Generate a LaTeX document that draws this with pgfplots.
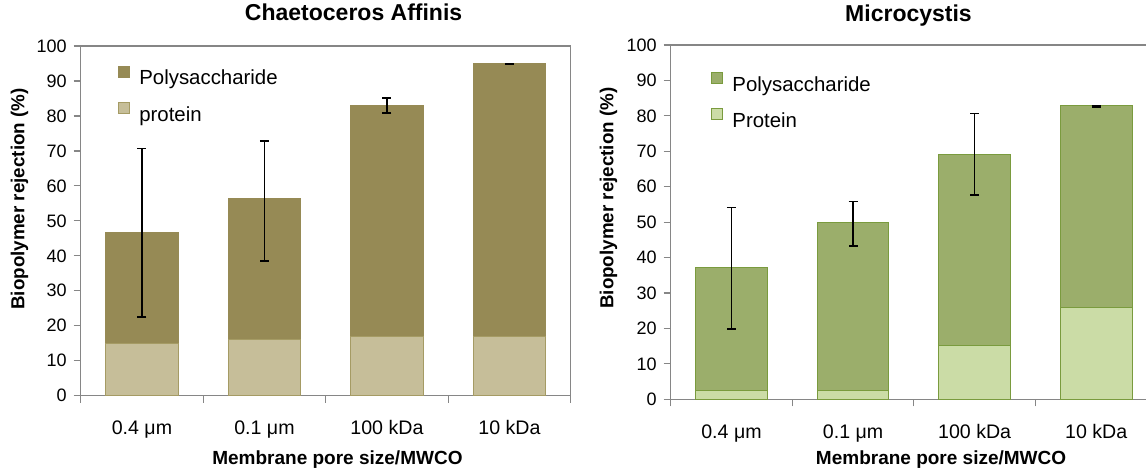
\documentclass[border=0pt]{standalone}
\usepackage{pgfplots}
\usepackage{pgfplotstable}
\pgfplotsset{compat=1.18}
\usepackage{fontspec}
\setmainfont{Liberation Sans}

\definecolor{olivedark}{RGB}{150,138,85}
\definecolor{olivelight}{RGB}{198,190,153}
\definecolor{oliveedge}{RGB}{165,155,100}
\definecolor{greendark}{RGB}{155,174,107}
\definecolor{greenlight}{RGB}{203,220,166}
\definecolor{greenedge}{RGB}{122,155,62}
\definecolor{axisgray}{RGB}{134,134,134}

% x: category index; prot, poly stacked; ec: error centre; err: half range
\pgfplotstableread{
x prot poly ec err
0 15.0 31.7 46.6 24.1
1 16.0 40.3 55.65 17.15
2 16.8 66.3 83.0 2.1
3 16.8 78.1 94.9 0.1
}\chaet
\pgfplotstableread{
x prot poly ec err
0 2.5 34.6 36.95 17.15
1 2.5 47.3 49.5 6.3
2 15.1 54.1 69.2 11.5
3 25.9 57.0 82.6 0.2
}\micro

\pgfplotsset{
  base/.style={
    scale only axis, anchor=south west,
    xmin=-0.5, xmax=3.5, ymin=0, ymax=100,
  },
  panel/.style={
    base, ybar stacked, bar width=0.59,
    ytick={0,10,...,100},
    xtick={0,1,2,3},
    xticklabels={0.4 μm, 0.1 μm, 100 kDa, 10 kDa},
    minor xtick={-0.5,0.5,1.5,2.5,3.5},
    xtick pos=left, ytick pos=left,
    tick align=outside,
    major x tick style={draw=none},
    major tick length=3.5pt, minor tick length=3.5pt,
    every tick/.style={axisgray, line width=0.6pt},
    axis line style={axisgray, line width=0.6pt},
    /pgf/number format/assume math mode=true,
    xticklabel style={font=\fontsize{9.8}{11}\selectfont, anchor=base, yshift=-16pt},
    yticklabel style={font=\fontsize{9}{10}\selectfont, anchor=east, xshift=0pt},
    title style={font=\bfseries\fontsize{11.5}{13}\selectfont, anchor=base},
    xlabel style={font=\bfseries\fontsize{9.5}{11}\selectfont, anchor=base},
    ylabel style={font=\bfseries\fontsize{9.4}{11}\selectfont, anchor=center},
    legend cell align=left,
    reverse legend,
    legend style={draw=none, fill=none, anchor=north west, inner sep=0pt,
      font=\fontsize{10.2}{12}\selectfont,
      nodes={inner sep=0pt, text height=8pt, text depth=2pt},
      row sep=6.7pt},
    legend image code/.code={
      \path[draw=none, fill=none] (0pt,0pt) (10.5pt,0pt);
      \draw[##1, line width=0.5pt] (0.25pt,0.85pt) rectangle (5.75pt,6.35pt);
    },
  },
  errs/.style={
    base, hide axis,
  },
  errplot/.style={
    draw=none, mark=none, forget plot,
    error bars/.cd, y dir=both, y explicit,
    error bar style={black, line width=0.75pt},
    error mark options={rotate=90, mark size=2.25pt, black, line width=0.75pt},
  },
}

\begin{document}
\begin{tikzpicture}
% ---------------- Left panel ----------------
\begin{axis}[panel,
  at={(40.35pt,36.15pt)}, width=245pt, height=174.85pt,
  title={Chaetoceros Affinis},
  title style={at={(axis description cs:0.557,1.039)}},
  xlabel={Membrane pore size/MWCO},
  xlabel style={at={(axis description cs:0.524,-0.196)}},
  ylabel={Biopolymer rejection (\%)},
  ylabel style={at={(axis description cs:-0.125,0.5625)}},
  legend style={at={(axis description cs:0.076,0.945)}},
]
\addplot[fill=olivelight, draw=oliveedge, line width=0.5pt] table[x=x, y=prot] {\chaet};
\addlegendentry{protein}
\addplot[fill=olivedark, draw=olivedark, line width=0.5pt] table[x=x, y=poly] {\chaet};
\addlegendentry{Polysaccharide}
\end{axis}
\begin{axis}[errs, at={(40.35pt,36.15pt)}, width=245pt, height=174.85pt]
\addplot[errplot] table[x=x, y=ec, y error=err] {\chaet};
\end{axis}

% ---------------- Right panel ----------------
\begin{axis}[panel,
  at={(335.35pt,34.35pt)}, width=243.15pt, height=177.15pt,
  title={Microcystis},
  title style={at={(axis description cs:0.489,1.033)}},
  xlabel={Membrane pore size/MWCO},
  xlabel style={at={(axis description cs:0.556,-0.183)}},
  ylabel={Biopolymer rejection (\%)},
  ylabel style={at={(axis description cs:-0.128,0.568)}},
  legend style={at={(axis description cs:0.083,0.925)}, row sep=6.35pt},
]
\addplot[fill=greenlight, draw=greenedge, line width=0.5pt] table[x=x, y=prot] {\micro};
\addlegendentry{Protein}
\addplot[fill=greendark, draw=greenedge, line width=0.5pt] table[x=x, y=poly] {\micro};
\addlegendentry{Polysaccharide}
\end{axis}
\begin{axis}[errs, at={(335.35pt,34.35pt)}, width=243.15pt, height=177.15pt]
\addplot[errplot] table[x=x, y=ec, y error=err] {\micro};
\end{axis}

\pgfresetboundingbox
\useasboundingbox (0pt,0pt) rectangle (573pt,234pt);
\end{tikzpicture}
\end{document}
